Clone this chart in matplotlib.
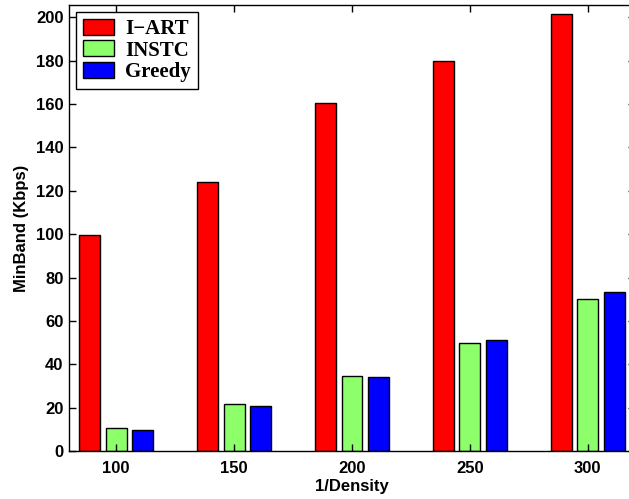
import matplotlib
matplotlib.use('Agg')
import matplotlib.pyplot as plt
import numpy as np

density = ['100', '150', '200', '250', '300']
iart = [99.7, 123.9, 160.5, 179.6, 201.5]
instc = [10.9, 21.6, 34.6, 50.1, 70.0]
greedy = [10.0, 21.0, 34.3, 51.3, 73.6]
series_names = ['I\u2212ART', 'INSTC', 'Greedy']
colors = ['#ff0000', '#8cff6a', '#0000ff']

fig = plt.figure(figsize=(6.29, 4.99), dpi=100)
ax = fig.add_axes([69/629., 47.7/499., 566/629., 446.3/499.])

x = np.arange(1, len(density)+1)
w = 0.178
off = 0.223
for i, (vals, name) in enumerate(zip([iart, instc, greedy], series_names)):
    ax.bar(x + (i-1)*off, vals, width=w, color=colors[i], edgecolor='black',
           linewidth=1.0, label=name)

ax.set_xlim(0.6, 5.4)
ax.set_ylim(0, 205.6)
ax.set_xticks(x)
ax.set_xticklabels(density)
ax.set_yticks(np.arange(0, 201, 20))
ax.tick_params(direction='in', top=True, right=True, length=5, width=1,
               labelsize=12, pad=4)
ax.tick_params(axis='x', pad=7)
for lab in ax.get_xticklabels() + ax.get_yticklabels():
    lab.set_fontfamily('Liberation Sans')
    lab.set_fontweight('bold')
for sp in ax.spines.values():
    sp.set_linewidth(1.0)

ax.set_xlabel('1/Density', fontsize=12, fontweight='bold',
              family='Liberation Sans', labelpad=2)
ax.set_ylabel('MinBand (Kbps)', fontsize=12, fontweight='bold',
              family='Liberation Sans', labelpad=5)

leg = ax.legend(loc='upper left', bbox_to_anchor=(0.0124, 0.985),
                borderaxespad=0, fancybox=False, edgecolor='black',
                prop={'family': 'Liberation Serif', 'weight': 'bold', 'size': 15},
                handlelength=1.45, handleheight=0.8, labelspacing=0.06,
                borderpad=0.35, handletextpad=0.55, framealpha=1)
leg.get_frame().set_linewidth(1.0)

fig.savefig('out.png', dpi=100)
